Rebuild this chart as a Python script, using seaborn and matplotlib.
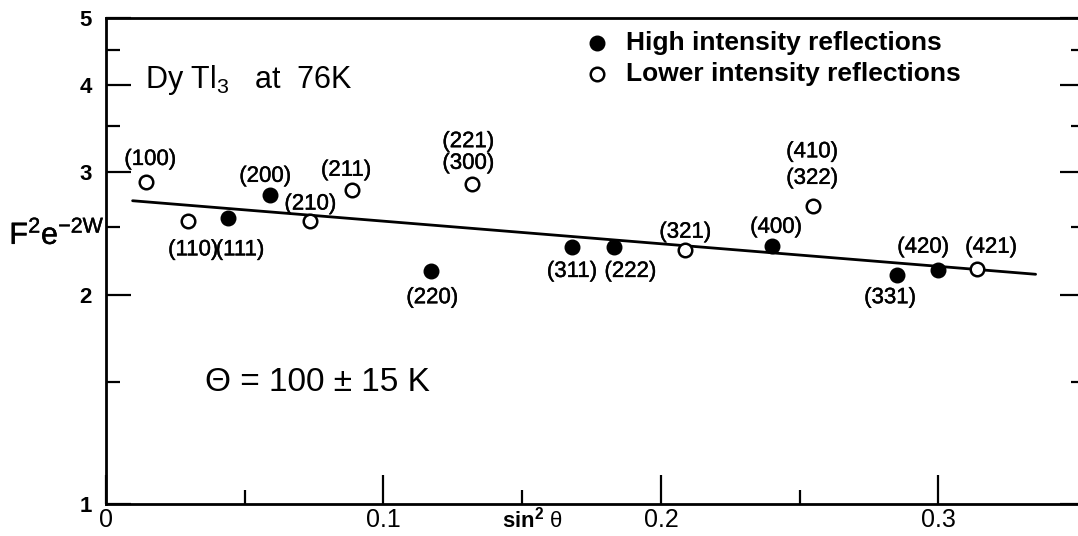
import numpy as np
import pandas as pd
import seaborn as sns
import matplotlib
matplotlib.use("Agg")
import matplotlib.pyplot as plt
import matplotlib.patheffects as pe
from matplotlib.ticker import FixedLocator, FixedFormatter, NullFormatter

# ---- data ----
high_x = [0.044, 0.059, 0.117, 0.168, 0.183, 0.240, 0.285, 0.300]
high_y = [2.58, 2.78, 2.16, 2.34, 2.34, 2.35, 2.135, 2.17]
low_x = [0.0146, 0.0296, 0.0737, 0.0887, 0.132, 0.2088, 0.2548, 0.314]
low_y = [2.90, 2.55, 2.55, 2.83, 2.89, 2.32, 2.68, 2.18]
fit_x = [0.0096, 0.335]
fit_y = [2.73, 2.14]

hkl_labels = ["(100)", "(110)", "(111)", "(200)", "(210)", "(211)", "(221)", "(300)",
              "(220)", "(311)", "(222)", "(321)", "(400)", "(410)", "(322)", "(331)",
              "(420)", "(421)"]
hkl_x = [0.016, 0.0315, 0.0484, 0.0574, 0.0737, 0.0866, 0.1306, 0.1306,
         0.1176, 0.168, 0.189, 0.2088, 0.2415, 0.2545, 0.2545, 0.2826,
         0.2945, 0.319]
hkl_y = [3.13, 2.32, 2.32, 2.96, 2.70, 3.02, 3.32, 3.09,
         1.98, 2.16, 2.16, 2.46, 2.50, 3.21, 2.94, 1.98,
         2.34, 2.34]

y_major = [1, 2, 3, 4, 5]
y_minor = [1.5, 2.5, 3.5, 4.5]
x_major = [0, 0.1, 0.2, 0.3]
x_major_labels = ["0", "0.1", "0.2", "0.3"]
x_minor = [0.05, 0.15, 0.25]

sns.set_style("white")
plt.rcParams["font.family"] = ["Liberation Sans", "DejaVu Sans"]
plt.rcParams["mathtext.fontset"] = "custom"
plt.rcParams["mathtext.rm"] = "Liberation Sans"
plt.rcParams["mathtext.it"] = "Liberation Sans"
plt.rcParams["mathtext.bf"] = "Liberation Sans:bold"
for k in ["text.color", "axes.labelcolor", "xtick.color", "ytick.color", "axes.edgecolor"]:
    plt.rcParams[k] = "black"

pen = [pe.withStroke(linewidth=0.3, foreground="black")]

fig = plt.figure(figsize=(10.78, 5.36), dpi=100)
ax = fig.add_axes([0.0983, 0.0597, 0.9082, 0.9067])

sns.lineplot(x=fit_x, y=fit_y, color="black", linewidth=2.0, ax=ax)
sns.scatterplot(x=high_x, y=high_y, color="black", edgecolor="black", s=110,
                linewidth=1.0, label="High intensity reflections", ax=ax, zorder=3)
sns.scatterplot(x=low_x, y=low_y, facecolor="white", edgecolor="black", s=95,
                linewidth=1.8, label="Lower intensity reflections", ax=ax, zorder=3)

ax.set_yscale("log")
ax.set_xlim(0, 0.3528)
ax.set_ylim(1, 5)

ax.yaxis.set_major_locator(FixedLocator(y_major))
ax.yaxis.set_major_formatter(FixedFormatter([str(v) for v in y_major]))
ax.yaxis.set_minor_locator(FixedLocator(y_minor))
ax.yaxis.set_minor_formatter(NullFormatter())
ax.xaxis.set_major_locator(FixedLocator(x_major))
ax.xaxis.set_major_formatter(FixedFormatter(x_major_labels))
ax.xaxis.set_minor_locator(FixedLocator(x_minor))

for sp in ax.spines.values():
    sp.set_linewidth(2.0)
    sp.set_color("black")
ax.spines["right"].set_visible(False)

ax.tick_params(axis="y", which="major", direction="in", length=18, width=1.6,
               left=True, right=True, labelsize=16, pad=10, colors="black")
ax.tick_params(axis="y", which="minor", direction="in", length=10, width=1.6,
               left=True, right=True, colors="black")
ax.tick_params(axis="x", which="major", direction="in", length=21, width=1.6,
               bottom=True, top=False, labelsize=18, pad=3, colors="black")
ax.tick_params(axis="x", which="minor", direction="in", length=10, width=1.6,
               bottom=True, top=False, colors="black")
for lab in ax.get_yticklabels():
    lab.set_fontweight("bold")

for t, xx, yy in zip(hkl_labels, hkl_x, hkl_y):
    ax.text(xx, yy, t, ha="center", va="center", fontsize=16, color="black",
            path_effects=pen)

ax.text(0.04, 0.872, r"Dy Tl$_3$   at  76K", transform=ax.transAxes,
        fontsize=22, ha="left", va="center", color="black")
ax.text(0.101, 0.251, "Θ = 100 ± 15 K", transform=ax.transAxes,
        fontsize=24, ha="left", va="center", color="black")
ax.text(-0.05, 0.553, r"$\mathrm{F^2e^{-2W}}$", transform=ax.transAxes,
        fontsize=22, ha="center", va="center", color="black", path_effects=pen)
ax.text(0.436, -0.033, r"$\mathbf{sin^2}$ θ", transform=ax.transAxes,
        fontsize=16, ha="center", va="center", color="black")

leg = ax.legend(loc="center left", bbox_to_anchor=(0.4905, 0.9167), frameon=False,
                prop={"size": 19, "weight": "bold"}, handlelength=0.8,
                handletextpad=0.7, labelspacing=0.28, borderpad=0, borderaxespad=0)
for txt in leg.get_texts():
    txt.set_color("black")

fig.savefig("out.png", dpi=100)
